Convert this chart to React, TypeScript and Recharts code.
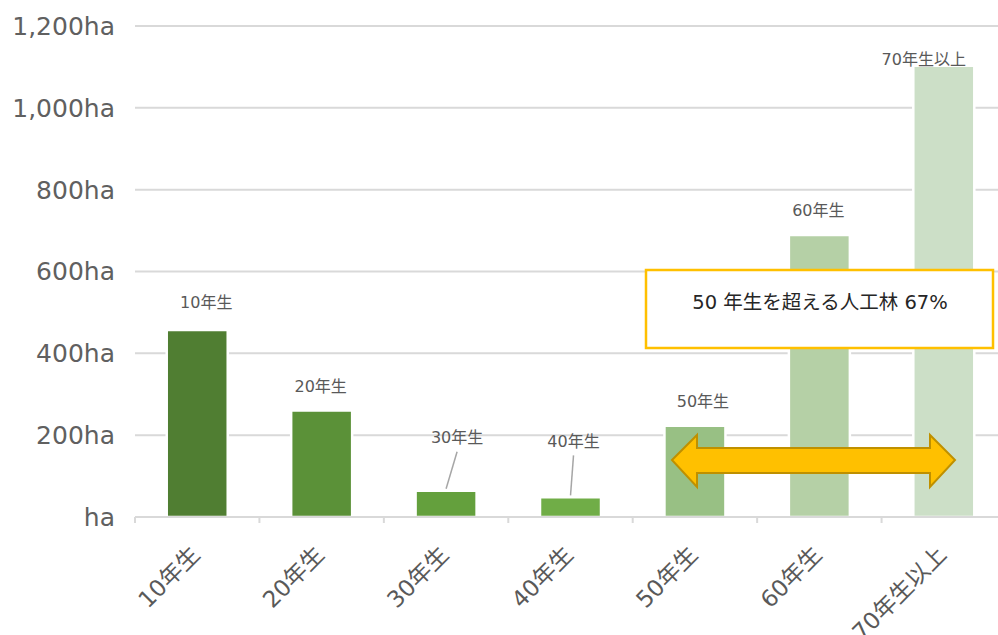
import { Bar, BarChart, CartesianGrid, Cell, LabelList, XAxis, YAxis } from "recharts";

const categories = ["10年生", "20年生", "30年生", "40年生", "50年生", "60年生", "70年生以上"];
const areas = [457, 260, 64, 48, 223, 689, 1103];
const barColors = ["#507E32", "#5B9138", "#64A03D", "#70AD47", "#98C084", "#B5D0A6", "#CCDFC7"];
const yTicks = [0, 200, 400, 600, 800, 1000, 1200];

// label offsets from each bar's top centre
const labelDx = [9, -1, 11, 3, 8, -1, -20];
const labelDy = [-28, -24, -53, -56, -24, -25, -6];
const hasLeader = [false, false, true, true, false, false, false];

const font = "'DejaVu Sans', 'Noto Sans CJK JP', sans-serif";
const grey = "#595959";

const data = categories.map((name, i) => ({ name, area: areas[i] }));

function BarLabel(props: any) {
  const { x, y, width, index, value } = props;
  const cx = Number(x) + Number(width) / 2;
  const top = Number(y);
  const dx = labelDx[index] ?? 0;
  const dy = labelDy[index] ?? -24;
  return (
    <g>
      {hasLeader[index] && (
        <line x1={cx + dx} y1={top + dy + 14} x2={cx} y2={top - 2} stroke="#a6a6a6" strokeWidth={1.5} />
      )}
      <text
        x={cx + dx}
        y={top + dy}
        textAnchor="middle"
        dominantBaseline="central"
        fill={grey}
        fontSize={16}
        fontFamily={font}
      >
        {value}
      </text>
    </g>
  );
}

function XTick(props: any) {
  const { x, y, payload, width, visibleTicksCount } = props;
  const count = visibleTicksCount || categories.length;
  const band = width ? width / count : 124.4;
  const left = x - band / 2;
  const isLast = payload.index === count - 1;
  return (
    <g>
      <line x1={left} y1={y} x2={left} y2={y + 6} stroke="#d9d9d9" strokeWidth={2} />
      {isLast && <line x1={left + band} y1={y} x2={left + band} y2={y + 6} stroke="#d9d9d9" strokeWidth={2} />}
      <text
        transform={`translate(${x + 4},${y + 39}) rotate(-45)`}
        textAnchor="end"
        fill={grey}
        fontSize={23}
        fontFamily={font}
      >
        {payload.value}
      </text>
    </g>
  );
}

export default function App() {
  return (
    <div
      style={{
        position: "absolute",
        left: 0,
        top: 0,
        width: 998,
        height: 635,
        overflow: "hidden",
        background: "#fff",
      }}
    >
      <BarChart
        width={1010}
        height={635}
        data={data}
        margin={{ top: 26, right: 4, bottom: 0, left: 0 }}
        barCategoryGap="25.5%"
      >
        <CartesianGrid vertical={false} stroke="#d9d9d9" strokeWidth={2} />
        <XAxis
          dataKey="name"
          height={118}
          interval={0}
          tick={<XTick />}
          tickLine={false}
          tickSize={0}
          tickMargin={0}
          axisLine={{ stroke: "#d9d9d9", strokeWidth: 2 }}
        />
        <YAxis
          width={135}
          domain={[0, 1200]}
          ticks={yTicks}
          tickFormatter={(v) => (v === 0 ? "ha" : `${Number(v).toLocaleString("en-US")}ha`)}
          axisLine={false}
          tickLine={false}
          tickSize={0}
          tickMargin={20}
          tick={{ fill: "#606060", fontSize: 25, fontFamily: font }}
        />
        <Bar dataKey="area" stroke="#fff" strokeWidth={2.5} isAnimationActive={false}>
          {data.map((d, i) => (
            <Cell key={d.name} fill={barColors[i]} />
          ))}
          <LabelList dataKey="name" content={<BarLabel />} />
        </Bar>
      </BarChart>
      <svg style={{ position: "absolute", left: 0, top: 0 }} width={998} height={635}>
        <polygon
          points="672,460 697,435 697,448 930,448 930,435 955,460 930,487 930,473 697,473 697,487"
          fill="#FFC000"
          stroke="#BF9000"
          strokeWidth={2}
          strokeLinejoin="miter"
        />
        <rect x={646} y={270} width={347} height={78} fill="#fff" stroke="#FFC000" strokeWidth={2.5} />
        <text
          x={820}
          y={302}
          textAnchor="middle"
          dominantBaseline="central"
          fill="#262626"
          fontSize={19.5}
          fontFamily={font}
        >
          50 年生を超える人工林 67%
        </text>
      </svg>
    </div>
  );
}
